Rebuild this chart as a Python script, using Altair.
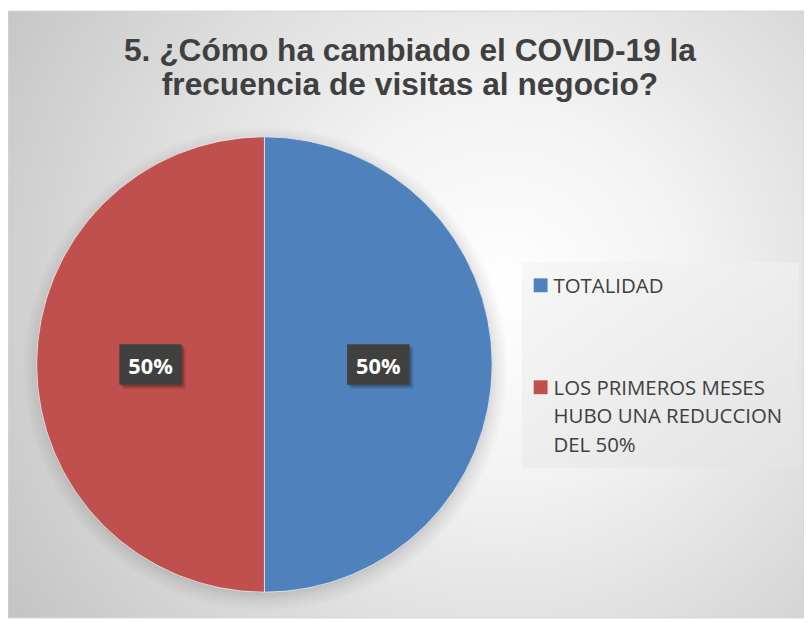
import math
import altair as alt
import pandas as pd

# ---- data ----
TITLE_LINES = ["5. ¿Cómo ha cambiado el COVID-19 la", "frecuencia de visitas al negocio?"]
CATEGORIES = ["TOTALIDAD", "LOS PRIMEROS MESES HUBO UNA REDUCCION DEL 50%"]
VALUES = [50, 50]
LABELS = ["50%", "50%"]
LEGEND_LINES = [["TOTALIDAD"], ["LOS PRIMEROS MESES", "HUBO UNA REDUCCION", "DEL 50%"]]
COLORS = ["#4f81bd", "#c0504d"]

# ---- layout ----
W, H = 804, 613
CX, CY, R = 259, 357, 230
BOX_W, BOX_H = 63, 41
BOX_PATH = f"M-1,-{BOX_H / BOX_W:.3f}H1V{BOX_H / BOX_W:.3f}H-1Z"

df = pd.DataFrame({
    "cat": CATEGORIES,
    "value": VALUES,
    "label": LABELS,
    "order": list(range(len(CATEGORIES))),
    "legend": ["\n".join(l) for l in LEGEND_LINES],
})
one = pd.DataFrame({"a": [0]})
title_df = pd.DataFrame({"t": ["\n".join(TITLE_LINES)]})

bg = alt.Chart(one).mark_rect(
    fill=alt.RadialGradient(
        gradient="radial", x1=0.62, y1=0.47, r1=0, x2=0.62, y2=0.47, r2=0.78,
        stops=[alt.GradientStop(offset=0, color="#ffffff"),
               alt.GradientStop(offset=0.3, color="#f3f3f3"),
               alt.GradientStop(offset=1, color="#c0c0c0")]),
    stroke="#d6d6d6", strokeWidth=1,
).encode(x=alt.value(0), x2=alt.value(W), y=alt.value(0), y2=alt.value(H))

shadow = alt.Chart(one).mark_arc(
    radius=R + 15, theta=0, theta2=2 * math.pi,
    fill=alt.RadialGradient(
        gradient="radial", x1=0.5, y1=0.5, r1=0, x2=0.5, y2=0.5, r2=0.5,
        stops=[alt.GradientStop(offset=0, color="rgba(0,0,0,0.25)"),
               alt.GradientStop(offset=0.9, color="rgba(0,0,0,0.2)"),
               alt.GradientStop(offset=0.95, color="rgba(0,0,0,0.08)"),
               alt.GradientStop(offset=1, color="rgba(0,0,0,0)")]),
).encode(x=alt.value(CX + 1), y=alt.value(CY + 4))

pie = alt.Chart(df).mark_arc(radius=R, stroke="#f0f0f0", strokeWidth=0.8).encode(
    theta=alt.Theta("value:Q", stack=True),
    color=alt.Color("cat:N", scale=alt.Scale(domain=CATEGORIES, range=COLORS), legend=None),
    order=alt.Order("order:Q"),
    x=alt.value(CX), y=alt.value(CY),
)

lab = alt.Chart(df).transform_joinaggregate(
    total="sum(value)"
).transform_window(
    cum="sum(value)", sort=[alt.SortField("order")]
).transform_calculate(
    mid="(datum.cum - datum.value / 2) / datum.total * 2 * PI",
    lx=f"{CX} + {R / 2} * sin(datum.mid)",
    ly=f"{CY} - {R / 2} * cos(datum.mid)",
)
pos = dict(x=alt.X("lx:Q", scale=None), y=alt.Y("ly:Q", scale=None))

box_sh1 = lab.mark_point(shape=BOX_PATH, size=BOX_W ** 2, filled=True, fill="#000000",
                         opacity=0.12, strokeWidth=0, xOffset=4, yOffset=4).encode(**pos)
box_sh2 = lab.mark_point(shape=BOX_PATH, size=BOX_W ** 2, filled=True, fill="#000000",
                         opacity=0.2, strokeWidth=0, xOffset=2, yOffset=2).encode(**pos)
box = lab.mark_point(shape=BOX_PATH, size=BOX_W ** 2, filled=True, fill="#404040",
                     opacity=1, strokeWidth=0).encode(**pos)
txt = lab.mark_text(font="Open Sans", fontWeight="bold", fontSize=22, color="#ffffff",
                    align="center", baseline="alphabetic", dy=10).encode(
    text="label:N", **pos)

legend_box = alt.Chart(one).mark_rect(
    fill=alt.LinearGradient(
        gradient="linear", x1=0, y1=0, x2=1, y2=1,
        stops=[alt.GradientStop(offset=0, color="#f7f7f7"),
               alt.GradientStop(offset=1, color="#e3e3e3")]),
).encode(x=alt.value(519), x2=alt.value(799), y=alt.value(254), y2=alt.value(461))

leg_y = alt.Y("cat:N", scale=alt.Scale(domain=CATEGORIES, range=[277, 380], padding=0), axis=None)
leg_sq = alt.Chart(df).mark_square(size=196, opacity=1).encode(
    x=alt.value(538), y=leg_y,
    color=alt.Color("cat:N", scale=alt.Scale(domain=CATEGORIES, range=COLORS), legend=None),
)
leg_txt = alt.Chart(df).mark_text(
    align="left", baseline="alphabetic", dy=7.5, lineBreak="\n", lineHeight=29,
    font="Open Sans", fontSize=20.6, color="#404040",
).encode(x=alt.value(551), y=leg_y, text="legend:N")

title = alt.Chart(title_df).mark_text(
    font="Liberation Sans", fontWeight="bold", fontSize=32, color="#404040",
    align="center", baseline="alphabetic", lineBreak="\n", lineHeight=34.5,
).encode(x=alt.value(406), y=alt.value(50.5), text="t:N")

chart = alt.layer(
    bg, shadow, pie, box_sh1, box_sh2, box, txt, legend_box, leg_sq, leg_txt, title
).resolve_scale(
    x="independent", y="independent"
).properties(
    width=W, height=H, autosize="none", padding=0, background="white"
).configure_view(stroke=None)

chart.save("out.html", embed_options={"renderer": "svg", "actions": False})
